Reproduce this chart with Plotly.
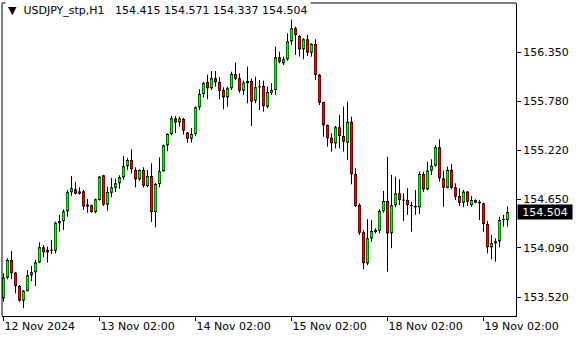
import plotly.graph_objects as go

# Hourly candles, index 0 = 12 Nov 2024 (first bar shown)
opens = [153.509,153.747,153.951,153.804,153.651,153.481,153.596,153.774,153.809,153.924,
         154.098,154.040,154.066,154.058,154.375,154.401,154.513,154.733,154.767,154.717,
         154.743,154.567,154.583,154.505,154.644,154.929,154.590,154.728,154.785,154.837,
         154.906,155.037,155.106,154.991,154.883,154.991,154.805,154.921,154.505,154.829,
         154.976,155.276,155.406,155.587,155.541,155.579,155.422,155.352,155.406,155.715,
         155.868,156.007,155.934,156.050,156.007,155.914,155.830,155.934,156.099,156.050,
         155.906,155.992,156.018,155.791,155.946,155.961,155.722,155.883,155.914,156.292,
         156.223,156.269,156.477,156.627,156.538,156.385,156.500,156.345,156.446,156.088,
         155.776,155.510,155.363,155.299,155.484,155.383,155.306,155.548,154.944,154.586,
         154.271,153.913,154.201,154.274,154.289,154.517,154.632,154.259,154.583,154.721,
         154.644,154.644,154.583,154.560,154.560,154.944,154.767,154.983,155.040,155.253,
         154.894,154.786,154.991,154.790,154.690,154.613,154.740,154.586,154.644,154.624,
         154.606,154.367,154.098,154.144,154.167,154.413,154.415]
highs = [153.797,153.971,154.055,153.812,153.662,153.604,153.835,153.882,153.951,154.155,
         154.124,154.104,154.182,154.393,154.471,154.537,154.759,154.921,154.852,154.790,
         154.759,154.655,154.590,154.659,154.921,154.933,154.797,154.898,154.890,154.929,
         155.152,155.129,155.230,155.022,154.996,155.022,154.991,155.068,154.840,155.137,
         155.283,155.414,155.614,155.614,155.606,155.591,155.429,155.476,155.724,155.923,
         156.007,156.091,156.134,156.134,156.061,155.946,155.953,156.126,156.230,156.107,
         156.022,156.184,156.045,156.068,156.030,156.022,155.953,155.992,156.415,156.357,
         156.299,156.569,156.743,156.646,156.550,156.512,156.550,156.454,156.500,156.099,
         155.779,155.516,155.414,155.499,155.626,155.722,155.779,155.606,155.010,154.606,
         154.297,154.421,154.413,154.317,154.537,154.748,155.144,154.933,154.913,154.883,
         154.721,154.779,154.624,154.759,154.971,154.971,155.086,155.114,155.279,155.345,
         154.983,155.029,155.060,154.837,154.779,154.759,154.748,154.690,154.652,154.644,
         154.613,154.401,154.240,154.201,154.451,154.471,154.571]
lows = [153.469,153.728,153.728,153.566,153.469,153.393,153.587,153.708,153.651,153.913,
        153.983,153.920,154.020,154.028,154.278,154.297,154.451,154.693,154.710,154.705,
        154.528,154.497,154.497,154.490,154.638,154.575,154.520,154.675,154.736,154.774,
        154.875,154.991,154.952,154.790,154.867,154.790,154.790,154.390,154.328,154.790,
        154.971,155.207,155.391,155.414,155.491,155.398,155.306,155.306,155.383,155.683,
        155.830,155.807,155.914,155.953,155.807,155.692,155.722,155.914,156.030,155.883,
        155.857,155.761,155.499,155.761,155.683,155.664,155.703,155.857,155.857,156.223,
        156.203,156.253,156.434,156.319,156.299,156.269,156.307,156.299,156.030,155.741,
        155.375,155.260,155.202,155.241,155.241,155.202,155.106,154.825,154.563,154.240,
        153.843,153.893,154.162,154.259,154.259,154.497,153.816,154.086,154.560,154.586,
        154.401,154.471,154.278,154.471,154.482,154.740,154.759,154.933,155.029,154.855,
        154.566,154.779,154.767,154.644,154.575,154.560,154.575,154.566,154.606,154.413,
        154.278,154.028,153.959,153.931,154.098,154.336,154.337]
closes = [153.747,153.951,153.797,153.651,153.481,153.596,153.774,153.809,153.924,154.098,
          154.040,154.066,154.063,154.382,154.401,154.513,154.733,154.779,154.717,154.743,
          154.567,154.590,154.505,154.652,154.913,154.590,154.736,154.790,154.837,154.906,
          155.033,155.106,154.999,154.883,154.991,154.809,154.921,154.505,154.829,154.976,
          155.276,155.406,155.587,155.541,155.587,155.445,155.352,155.406,155.715,155.868,
          155.992,155.934,156.050,156.003,155.906,155.830,155.934,156.099,156.045,155.906,
          155.999,156.018,155.779,155.946,155.957,155.730,155.891,155.914,156.292,156.241,
          156.269,156.477,156.627,156.550,156.385,156.500,156.345,156.446,156.088,155.768,
          155.507,155.356,155.299,155.484,155.383,155.317,155.548,154.941,154.575,154.266,
          153.913,154.201,154.286,154.297,154.517,154.632,154.259,154.583,154.721,154.644,
          154.640,154.586,154.577,154.575,154.944,154.767,154.983,155.040,155.253,154.894,
          154.786,154.991,154.786,154.682,154.613,154.740,154.624,154.644,154.613,154.606,
          154.367,154.098,154.144,154.167,154.413,154.421,154.504]
bars = list(range(len(opens)))

tick_bars = [0, 24, 48, 72, 96, 120]
tick_labels = ["12 Nov 2024", "13 Nov 02:00", "14 Nov 02:00", "15 Nov 02:00",
               "18 Nov 02:00", "19 Nov 02:00"]
price_ticks = [153.520, 154.090, 154.650, 155.220, 155.780, 156.350]
symbol = "USDJPY_stp,H1"
last_price = 154.504

FONT = "DejaVu Sans"
Y_RANGE = [153.304, 156.919]
PLOT_H = 340 - 3 - 24
PX = (Y_RANGE[1] - Y_RANGE[0]) / PLOT_H   # one screen pixel in price units

# build candle geometry from the OHLC lists
wick_x, wick_y = [], []
body_x, body_y = [], []
up_x, up_y, dn_x, dn_y = [], [], [], []
for i, o, h, l, c in zip(bars, opens, highs, lows, closes):
    wick_x += [i, i, None]
    wick_y += [l, h, None]
    lo_b, hi_b = min(o, c), max(o, c)
    if hi_b - lo_b < PX:
        mid = (o + c) / 2
        lo_b, hi_b = mid - PX / 2, mid + PX / 2
    body_x += [i, i, None]
    body_y += [lo_b, hi_b, None]
    if hi_b - lo_b > 2 * PX:
        if c >= o:
            up_x += [i, i, None]
            up_y += [lo_b + PX, hi_b - PX, None]
        else:
            dn_x += [i, i, None]
            dn_y += [lo_b + PX, hi_b - PX, None]

fig = go.Figure()
fig.add_trace(go.Scatter(x=wick_x, y=wick_y, mode="lines",
                         line=dict(color="black", width=1), hoverinfo="skip"))
fig.add_trace(go.Scatter(x=body_x, y=body_y, mode="lines",
                         line=dict(color="black", width=3), hoverinfo="skip"))
fig.add_trace(go.Scatter(x=up_x, y=up_y, mode="lines",
                         line=dict(color="#00ff00", width=2), hoverinfo="skip"))
fig.add_trace(go.Scatter(x=dn_x, y=dn_y, mode="lines",
                         line=dict(color="#ff0000", width=2), hoverinfo="skip"))

fig.update_layout(
    width=580, height=340,
    margin=dict(l=2, r=64, t=3, b=24),
    paper_bgcolor="white", plot_bgcolor="white",
    showlegend=False,
    font=dict(family=FONT, size=11, color="black"),
    xaxis=dict(
        range=[-0.375, 128.125],
        showgrid=False, zeroline=False,
        showline=True, linecolor="black", linewidth=1,
        ticks="outside", ticklen=4, tickcolor="black",
        tickvals=tick_bars, ticktext=tick_labels,
        ticklabelposition="outside right",
        tickfont=dict(family=FONT, size=11, color="black"),
    ),
    yaxis=dict(
        range=Y_RANGE, side="right",
        showgrid=False, zeroline=False,
        showline=True, linecolor="black", linewidth=1,
        ticks="outside", ticklen=4, tickcolor="black",
        tickvals=price_ticks, tickformat=".3f",
        tickfont=dict(family=FONT, size=11, color="black"),
    ),
    shapes=[
        dict(type="line", xref="paper", yref="paper", x0=0, x1=0, y0=0, y1=1,
             line=dict(color="black", width=1)),
        dict(type="line", xref="paper", yref="paper", x0=0, x1=1, y0=1, y1=1,
             line=dict(color="black", width=1)),
    ],
    annotations=[
        dict(xref="paper", yref="paper", x=0, y=1, xanchor="left", yanchor="top",
             xshift=3, yshift=2, showarrow=False, bgcolor="white", borderpad=2,
             text="▼  " + symbol + "   " + " ".join(f"{v:.3f}" for v in
                   [opens[-1], highs[-1], lows[-1], closes[-1]]),
             font=dict(family=FONT, size=11, color="black")),
        dict(xref="paper", yref="y", x=1, y=last_price, xanchor="left", yanchor="middle",
             xshift=1, showarrow=False, bgcolor="black", borderpad=1,
             width=52, height=12,
             text=f"{last_price:.3f}",
             font=dict(family=FONT, size=11, color="white")),
    ],
)

fig.write_html("out.html")
